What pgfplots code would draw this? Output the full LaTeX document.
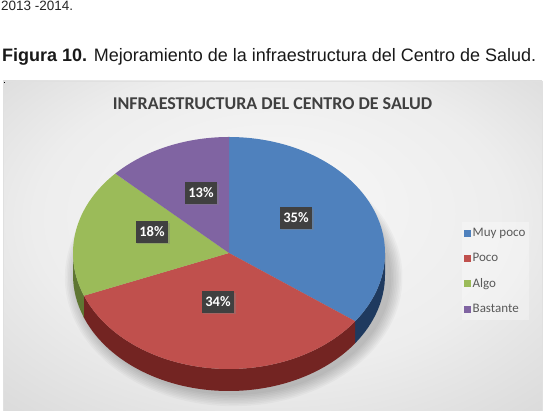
\documentclass[border=0pt]{standalone}
\usepackage{fontspec}
\setmainfont{Carlito}
\newfontfamily\arial{Liberation Sans}
\usepackage{pgfplots}
\pgfplotsset{compat=1.18}
\usepackage{pgfplotstable}
\usetikzlibrary{shadows}
\definecolor{cblue}{RGB}{79,129,189}
\definecolor{cred}{RGB}{192,80,77}
\definecolor{cgreen}{RGB}{155,187,89}
\definecolor{cpurple}{RGB}{128,100,162}
\definecolor{sblue}{RGB}{31,58,95}
\definecolor{sred}{RGB}{115,36,34}
\definecolor{sgreen}{RGB}{95,118,50}
\definecolor{lblbg}{RGB}{64,64,64}
\definecolor{titlec}{RGB}{64,64,64}
\definecolor{legc}{RGB}{89,89,89}
\pgfdeclareradialshading{chartbg}{\pgfpoint{0bp}{8bp}}{color(0bp)=(white!97!black); color(22bp)=(white!93!black); color(50bp)=(white!79!black)}

\pgfplotstableread{
value
35
34
18
13
}\piedata

\begin{document}
\begin{tikzpicture}[x=1pt,y=1pt]
\pgfplotstablegetelem{0}{value}\of\piedata \let\va\pgfplotsretval
\pgfplotstablegetelem{1}{value}\of\piedata \let\vb\pgfplotsretval
\pgfplotstablegetelem{2}{value}\of\piedata \let\vc\pgfplotsretval
\pgfplotstablegetelem{3}{value}\of\piedata \let\vd\pgfplotsretval
\pgfmathsetmacro\aA{90}
\pgfmathsetmacro\aB{\aA-3.6*\va}
\pgfmathsetmacro\aC{\aB-3.6*\vb}
\pgfmathsetmacro\aD{\aC-3.6*\vc}
\pgfmathsetmacro\aE{\aD-3.6*\vd}

\path[use as bounding box] (0,0) rectangle (553,411);
\node[anchor=base west, inner sep=0, font=\arial\fontsize{13.5}{16}\selectfont, text=black!85] at (1,400.5) {2013 -2014.};
\node[anchor=base west, inner sep=0, font=\arial\fontsize{18}{21}\selectfont, text=black!90] at (2,349) {\textbf{Figura 10.} Mejoramiento de la infraestructura del Centro de Salud.};
\shade[shading=chartbg, draw=white!88!black, line width=0.6pt] (3,-6) rectangle (542,330);
\fill[black] (3.5,327.5) rectangle (5,329);
\node[anchor=base, inner sep=0, font=\bfseries\fontsize{18}{21}\selectfont, text=titlec] at (272.5,301) {INFRAESTRUCTURA DEL CENTRO DE SALUD};

\begin{axis}[at={(0,0)}, anchor=south west, x=156pt, y=116pt,
  xmin=-1.46795, xmax=2.07692, ymin=-1.36207, ymax=2.18103,
  hide axis, clip=false,
  legend image code/.code={\fill[#1, fill opacity=1] (0pt,-3.5pt) rectangle (7pt,3.5pt);},
  legend cell align=left,
  legend style={at={(0.8354,0.4599)}, anchor=north west, draw=none,
    fill=white, fill opacity=0.3, text opacity=1,
    font=\fontsize{13}{15.6}\selectfont, text=legc,
    row sep=7.4pt, inner sep=2pt, nodes={inner xsep=1.5pt, inner ysep=4pt}},
]
% soft shadow
\pgfplotsinvokeforeach{1,...,8}{
  \fill[black, opacity=0.028] (axis cs:0.03,-0.21) ellipse [x radius={156pt+1.6pt*#1}, y radius={116pt+1.6pt*#1}];
}
% side bands of the lower half
\addplot[fill=sblue, draw=none, domain=\aB:0, samples=40, variable=\t, forget plot] ({cos(\t)},{sin(\t)})
  -- ++(0pt,-22pt) arc[start angle=0, end angle=\aB, x radius=156pt, y radius=116pt] -- cycle;
\addplot[fill=sred, draw=none, domain=\aC:\aB, samples=90, variable=\t, forget plot] ({cos(\t)},{sin(\t)})
  -- ++(0pt,-22pt) arc[start angle=\aB, end angle=\aC, x radius=156pt, y radius=116pt] -- cycle;
\addplot[fill=sgreen, draw=none, domain=-180:\aC, samples=20, variable=\t, forget plot] ({cos(\t)},{sin(\t)})
  -- ++(0pt,-22pt) arc[start angle=\aC, end angle=-180, x radius=156pt, y radius=116pt] -- cycle;
% top wedges
\addplot[fill=cblue, draw=none, domain=\aB:\aA, samples=90, variable=\t] ({cos(\t)},{sin(\t)}) -- (axis cs:0,0) -- cycle;
\addlegendentry{Muy poco}
\addplot[fill=cred, draw=none, domain=\aC:\aB, samples=90, variable=\t] ({cos(\t)},{sin(\t)}) -- (axis cs:0,0) -- cycle;
\addlegendentry{Poco}
\addplot[fill=cgreen, draw=none, domain=\aD:\aC, samples=60, variable=\t] ({cos(\t)},{sin(\t)}) -- (axis cs:0,0) -- cycle;
\addlegendentry{Algo}
\addplot[fill=cpurple, draw=none, domain=\aE:\aD, samples=60, variable=\t] ({cos(\t)},{sin(\t)}) -- (axis cs:0,0) -- cycle;
\addlegendentry{Bastante}
% data labels
\tikzset{lbl/.style={fill=lblbg, text=white, font=\bfseries\fontsize{14.5}{16}\selectfont,
  inner xsep=3.5pt, inner ysep=6pt, text height=9.5pt, text depth=0.3pt,
  drop shadow={opacity=0.4, shadow xshift=1.5pt, shadow yshift=-1.5pt}}}
\node[lbl] at (axis cs:0.4295,0.3017) {35\%};
\node[lbl] at (axis cs:-0.0705,-0.4224) {34\%};
\node[lbl] at (axis cs:-0.4936,0.1810) {18\%};
\node[lbl] at (axis cs:-0.1795,0.5172) {13\%};
\end{axis}
\end{tikzpicture}
\end{document}
